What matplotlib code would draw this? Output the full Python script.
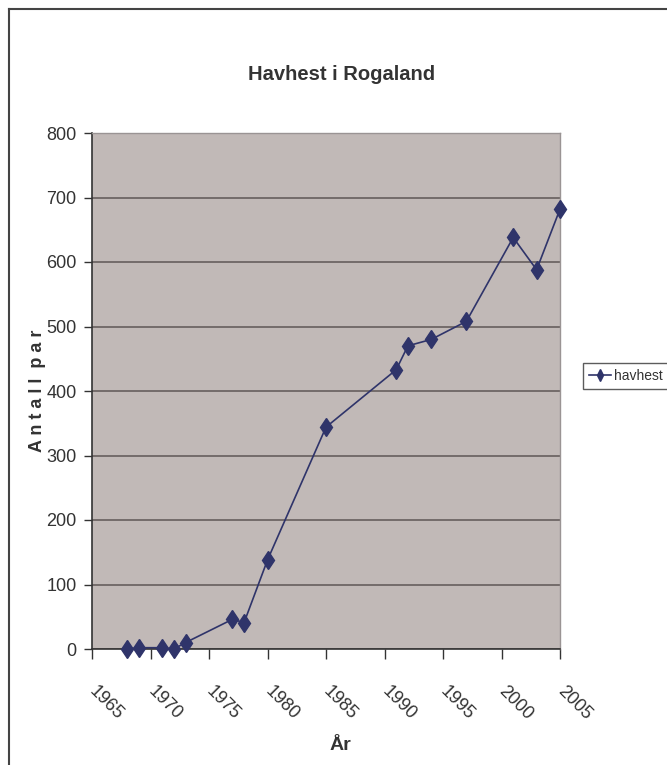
import matplotlib
matplotlib.use("Agg")
import matplotlib.pyplot as plt
from matplotlib.lines import Line2D

years = [1968, 1969, 1971, 1972, 1973, 1977, 1978, 1980, 1985, 1991, 1992, 1994, 1997, 2001, 2003, 2005]
pairs = [0, 2, 2, 0, 10, 46, 41, 138, 344, 433, 470, 480, 508, 638, 588, 682]
xticks = [1965, 1970, 1975, 1980, 1985, 1990, 1995, 2000, 2005]
yticks = [0, 100, 200, 300, 400, 500, 600, 700, 800]
series_name = "havhest"
title = "Havhest i Rogaland"
xlabel = "År"
ylabel = "A n t a l l  p a r"

FONT = ["Liberation Sans Narrow", "Liberation Sans", "DejaVu Sans"]
plt.rcParams["font.family"] = FONT

W, H = 667, 765
fig = plt.figure(figsize=(W / 100, H / 100), dpi=100)
fig.patch.set_facecolor("white")

# chart area border (left and top visible)
fig.add_artist(Line2D([9 / W, 9 / W], [0, 1 - 9 / H], color="#444444", lw=1.5, transform=fig.transFigure))
fig.add_artist(Line2D([9 / W, 1], [1 - 9 / H, 1 - 9 / H], color="#444444", lw=1.5, transform=fig.transFigure))

left, right, top, bottom = 92, 560, 133, 649
ax = fig.add_axes([left / W, 1 - bottom / H, (right - left) / W, (bottom - top) / H])
ax.set_facecolor("#C1B9B7")

line_color = "#2F346A"
ax.plot(years, pairs, color=line_color, lw=1.2, marker="d", markersize=9.5,
        markerfacecolor=line_color, markeredgecolor=line_color, label=series_name, clip_on=False, zorder=3)

ax.set_xlim(1965, 2005)
ax.set_ylim(0, 800)
ax.set_yticks(yticks)
ax.set_xticks(xticks)
ax.grid(axis="y", color="#5E5656", lw=1.1)
ax.set_axisbelow(True)

for s in ["top", "right"]:
    ax.spines[s].set_color("#9A9494")
    ax.spines[s].set_linewidth(1)
for s in ["left", "bottom"]:
    ax.spines[s].set_color("#333333")
    ax.spines[s].set_linewidth(1.2)

ax.tick_params(axis="y", direction="out", length=6, width=1, colors="#333333", labelsize=13, pad=5)
ax.tick_params(axis="x", direction="out", length=7, width=1, colors="#333333", labelsize=13, pad=22)
ax.set_xticklabels([str(x) for x in xticks], rotation=-45, ha="left", va="center", rotation_mode="anchor")
for lbl in ax.get_xticklabels():
    lbl.set_color("#333333")
for lbl in ax.get_yticklabels():
    lbl.set_color("#333333")

fig.text(342 / W, 1 - 75 / H, title, ha="center", va="center", fontsize=14.5, fontweight="bold", color="#333333")
fig.text(340 / W, 1 - 745 / H, xlabel, ha="center", va="center", fontsize=14, fontweight="bold", color="#333333")
fig.text(37 / W, 1 - 391 / H, ylabel, ha="center", va="center", rotation=90, fontsize=13, fontweight="bold", color="#333333")

leg = fig.legend(loc="center left", bbox_to_anchor=(583 / W, 1 - 376 / H), frameon=True, fancybox=False,
                 edgecolor="#333333", fontsize=10, handlelength=1.6, borderpad=0.4, handletextpad=0.2,
                 borderaxespad=0, markerscale=0.6)
leg.get_frame().set_linewidth(1)
for t in leg.get_texts():
    t.set_color("#333333")

fig.savefig("out.png", dpi=100, facecolor="white")
